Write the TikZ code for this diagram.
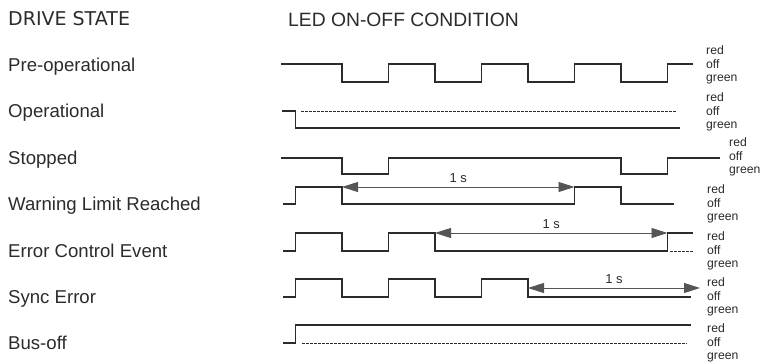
\documentclass[tikz,border=0pt]{standalone}
\usepackage{fontspec}
\setmainfont{Liberation Sans}
\newfontfamily\headfont{DejaVu Sans}
\usetikzlibrary{arrows.meta}
\definecolor{ink}{HTML}{2B2B2B}
\definecolor{spanink}{HTML}{555555}
\tikzset{
	wave/.style={draw=ink,line width=1.4pt,line join=miter},
	offline/.style={draw=ink,line width=0.7pt,dash pattern=on 2.5pt off 1.5pt},
	span/.style={draw=spanink,line width=0.9pt,{Triangle[length=16pt,width=10pt]}-{Triangle[length=16pt,width=10pt]}},
	spanlabel/.style={above=3pt,inner sep=1pt,font=\fontsize{13}{15}\selectfont,text=ink},
	drivestate/.style={anchor=base west,inner sep=0pt,font=\fontsize{18.6}{20}\selectfont,text=ink},
	ledstate/.style={anchor=west,inner sep=0pt,align=left,font=\fontsize{12.2}{13.5}\selectfont,text=ink}
}
\begin{document}
\begin{tikzpicture}[x=1pt,y=-1pt]
	\useasboundingbox (0,0) rectangle (761,364);
	\node[anchor=base west,inner sep=0pt,font=\headfont\fontsize{19}{21}\selectfont,text=ink] (drivehead) at (8,25) {DRIVE STATE};
	\node[anchor=base west,inner sep=0pt,font=\fontsize{19.3}{21}\selectfont,text=ink] (ledhead) at (288,26) {LED ON-OFF CONDITION};
	\foreach \name/\y [count=\i] in {Pre-operational/71,Operational/117,Stopped/164,Warning Limit Reached/210,Error Control Event/257,Sync Error/303,Bus-off/349}
		\node[drivestate] (state\i) at (8,\y) {\name};
	\foreach \x/\y [count=\i] in {706/65,706/112,729/157,707/204,707/251,707/297,707/343}
		\node[ledstate] (led\i) at (\x,\y) {red\\off\\green};
	\draw[wave] (281,64) -| (342,82) -| (388.5,64) -| (435,82) -| (481.5,64) -| (528,82) -| (574.5,64) -| (621,82) -| (667.5,64) -- (693,64);
	\draw[wave] (282,111) -| (295.5,128) -- (680,128);
	\draw[offline] (301,111) -- (677,111);
	\draw[wave] (281,158) -| (342,174) -| (388.5,158) -| (621,174) -| (667.5,158) -- (720,158);
	\draw[wave] (283,204) -| (295.5,187) -| (342,204) -| (574.5,187) -| (621,204) -- (674,204);
	\draw[wave] (283,251) -| (295.5,233) -| (342,251) -| (388.5,233) -| (435,251) -| (667.5,233) -- (693,233);
	\draw[offline] (670,251) -- (693,251);
	\draw[wave] (283,297) -| (295.5,279) -| (342,297) -| (388.5,279) -| (435,297) -| (481.5,279) -| (528,297) -- (691,297);
	\draw[wave] (283,343) -| (295.5,325) -- (691,325);
	\draw[offline] (302,343) -- (687,343);
	\coordinate (warnstart) at (342,187);
	\coordinate (warnend) at (574.5,187);
	\coordinate (errstart) at (435,233);
	\coordinate (errend) at (667.5,233);
	\coordinate (syncstart) at (528,288);
	\coordinate (syncend) at (700,288);
	\draw[span] (warnstart) -- node[spanlabel] (warnlabel) {1 s} (warnend);
	\draw[span] (errstart) -- node[spanlabel] (errlabel) {1 s} (errend);
	\draw[span] (syncstart) -- node[spanlabel] (synclabel) {1 s} (syncend);
\end{tikzpicture}
\end{document}
